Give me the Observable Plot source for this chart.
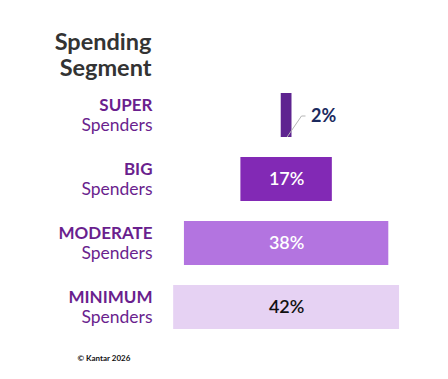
<!DOCTYPE html>
<html>
<head>
<meta charset="utf-8">
<script src="https://cdn.jsdelivr.net/npm/d3@7"></script>
<script src="https://cdn.jsdelivr.net/npm/@observablehq/plot@0.6"></script>
<style>
  html, body { margin: 0; padding: 0; background: #fff; }
  #chart svg { display: block; font-family: Lato, "Noto Sans", sans-serif; }
</style>
</head>
<body>
<div id="chart"></div>
<script>
const segments = ["SUPER", "BIG", "MODERATE", "MINIMUM"];
const segmentSub = ["Spenders", "Spenders", "Spenders", "Spenders"];
const shares = [2, 17, 38, 42];
const title = "Spending\nSegment";
const caption = "© Kantar 2026";

// styles (kept separate from data)
const barColors = ["#5e2490", "#8229b5", "#b374e0", "#e6d2f3"];
const valueColors = ["#1b2a5e", "#ffffff", "#ffffff", "#111111"];
const labelColor = "#6a1f8e";

const rows = segments.map((s, i) => ({segment: s, sub: segmentSub[i], value: shares[i], i}));
const inside = rows.filter(d => d.value >= 5);
const outside = rows.filter(d => d.value < 5);

const plot = Plot.plot({
  width: 448,
  height: 379,
  marginLeft: 0,
  marginRight: 0,
  marginTop: 92,
  marginBottom: 50,
  x: {domain: [-53.2, 30.1], axis: null},
  y: {domain: segments, axis: null, paddingInner: 0.3125, paddingOuter: 0},
  marks: [
    Plot.barX(rows, {x1: d => -d.value / 2, x2: d => d.value / 2, y: "segment", fill: d => barColors[d.i]}),
    Plot.text(inside, {x: 0, y: "segment", text: d => d.value + "%", fill: d => valueColors[d.i],
      fontSize: 18, fontWeight: 600, lineAnchor: "middle"}),
    Plot.text(outside, {x: d => d.value / 2, y: "segment", text: d => d.value + "%", fill: d => valueColors[d.i],
      fontSize: 18, fontWeight: 700, textAnchor: "start", dx: 19, dy: 1, lineAnchor: "middle"}),
    Plot.text(rows, {y: "segment", text: "segment", frameAnchor: "left", dx: 152, dy: -10,
      textAnchor: "end", lineAnchor: "middle", fill: labelColor, fontSize: 17, fontWeight: 700}),
    Plot.text(rows, {y: "segment", text: "sub", frameAnchor: "left", dx: 152, dy: 10,
      textAnchor: "end", lineAnchor: "middle", fill: labelColor, fontSize: 17.5, fontWeight: 400}),
    Plot.text([title], {frameAnchor: "top-left", dx: 151, dy: -38, textAnchor: "end", lineAnchor: "middle",
      lineHeight: 1.12, fill: "#333333", fontSize: 23.5, fontWeight: 700}),
    Plot.text([caption], {frameAnchor: "bottom-left", dx: 77, dy: 29, textAnchor: "start", lineAnchor: "middle",
      fill: "#111", fontSize: 8, fontWeight: 700})
  ]
});

// leader line for the small outside label, positioned via the plot's scales
const xs = plot.scale("x"), ys = plot.scale("y");
outside.forEach(d => {
  const top = ys.apply(d.segment), bw = ys.bandwidth;
  const x0 = xs.apply(0), lx = xs.apply(d.value / 2) + 19;
  const yMid = top + bw / 2 + 1;
  d3.select(plot).append("path")
    .attr("d", `M${x0 + 1},${top + bw} L${lx - 9},${yMid} L${lx - 5},${yMid}`)
    .attr("fill", "none").attr("stroke", "#b5b5b5").attr("stroke-width", 1);
});

document.getElementById("chart").appendChild(plot);
</script>
</body>
</html>
